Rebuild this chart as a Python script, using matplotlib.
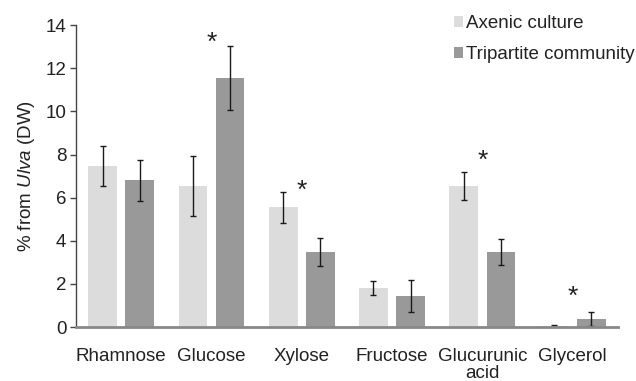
import numpy as np
import matplotlib.pyplot as plt

plt.rcParams['font.family'] = ['Liberation Sans', 'DejaVu Sans']
plt.rcParams['mathtext.fontset'] = 'custom'
plt.rcParams['mathtext.rm'] = 'Liberation Sans'
plt.rcParams['mathtext.it'] = 'Liberation Sans:italic'

# Monosaccharide composition, % of Ulva dry weight
categories = ['Rhamnose', 'Glucose', 'Xylose', 'Fructose', 'Glucurunic\nacid', 'Glycerol']
axenic = [7.48, 6.55, 5.56, 1.81, 6.55, 0.05]
axenic_err = [0.92, 1.38, 0.72, 0.32, 0.65, 0.03]
tripartite = [6.81, 11.54, 3.48, 1.44, 3.48, 0.37]
tripartite_err = [0.95, 1.49, 0.64, 0.74, 0.62, 0.33]

# significance marks: category index and height
star_idx = [1, 2, 4, 5]
star_y = [13.2, 6.3, 7.7, 1.4]

x = np.arange(len(categories))
w = 0.318
off = 0.206
fs = 13.5

fig = plt.figure(figsize=(6.36, 3.81), dpi=100)
ax = fig.add_axes([0.1195, 0.1417, 0.852, 0.7923])

ekw = dict(elinewidth=1, capthick=1, ecolor='#1a1a1a')
ax.bar(x - off, axenic, w, yerr=axenic_err, color='#dcdcdc', capsize=2,
       error_kw=ekw, label='Axenic culture')
ax.bar(x + off, tripartite, w, yerr=tripartite_err, color='#999999', capsize=2,
       error_kw=ekw, label='Tripartite community')

for i, y in zip(star_idx, star_y):
    ax.text(x[i], y, '*', ha='center', va='center', fontsize=19, color='#222222')

ax.set_xlim(-0.5, 5.5)
ax.set_ylim(0, 14)
ax.set_yticks(range(0, 15, 2))
ax.set_xticks(x)
ax.set_xticklabels(categories, fontsize=fs, color='#222222', linespacing=1.05)
ax.tick_params(axis='x', length=0, pad=15)
ax.tick_params(axis='y', labelsize=fs, labelcolor='#222222', length=4,
               width=1, color='#444444', pad=3)

for s in ['top', 'right']:
    ax.spines[s].set_visible(False)
ax.spines['left'].set_color('#444444')
ax.spines['left'].set_linewidth(1)
ax.spines['bottom'].set_color('#888888')
ax.spines['bottom'].set_linewidth(2)

ax.set_ylabel(r'% from $\it{Ulva}$ (DW)', fontsize=fs, color='#222222', labelpad=6)

ax.legend(loc='upper left', bbox_to_anchor=(0.683, 1.058), frameon=False,
          fontsize=fs, handlelength=0.5, handleheight=0.5, handletextpad=0.15,
          labelspacing=0.75, labelcolor='#222222', borderaxespad=0)

fig.savefig('out.png', dpi=100)
